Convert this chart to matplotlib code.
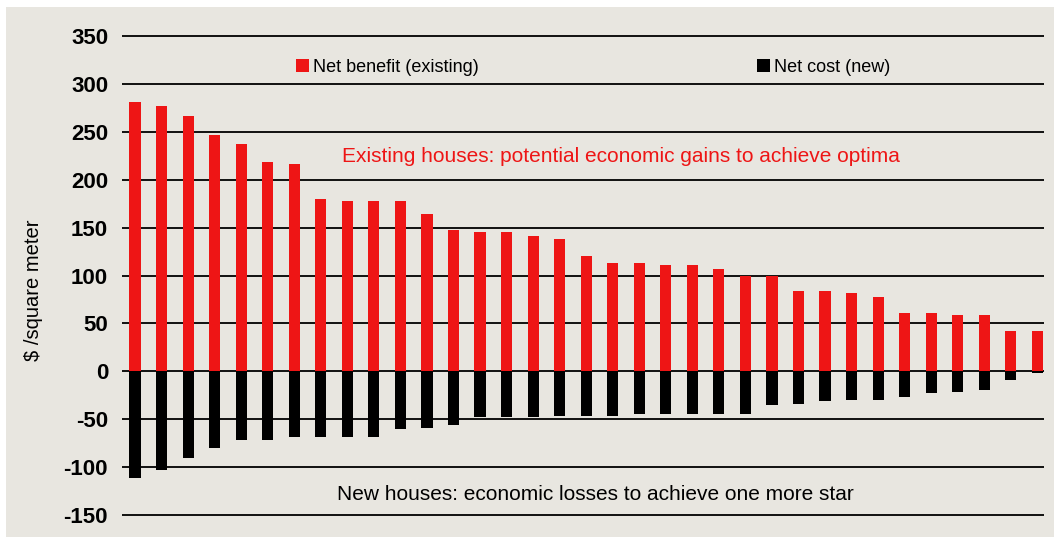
import numpy as np
import matplotlib.pyplot as plt
from matplotlib.patches import Rectangle, Patch

# values ($ per square meter)
net_benefit = [281, 277, 266, 247, 237, 218, 216, 180, 178, 178, 178, 164,
               147, 145, 145, 141, 138, 120, 113, 113, 111, 111, 107, 99,
               99, 84, 84, 82, 78, 61, 61, 59, 59, 42, 42]
net_cost = [-111, -103, -90, -80, -72, -72, -69, -69, -68, -68, -60, -59,
            -56, -48, -48, -48, -47, -47, -47, -44, -44, -44, -44, -44,
            -35, -34, -31, -30, -30, -27, -23, -22, -19, -9, -2]
yticks = [-150, -100, -50, 0, 50, 100, 150, 200, 250, 300, 350]

red = '#EE1515'
bg = '#E8E6E0'
narrow = ['Liberation Sans Narrow', 'Liberation Sans', 'DejaVu Sans']

fig = plt.figure(figsize=(10.54, 5.37), dpi=100, facecolor='white')
fig.patches.append(Rectangle((6 / 1054, 0), 1 - 6 / 1054, 1 - 7 / 537,
                             transform=fig.transFigure, facecolor=bg,
                             edgecolor='none', zorder=-10))

ax = fig.add_axes([122 / 1054, 1 - 517 / 537, 922 / 1054, 483 / 537])
ax.set_facecolor('none')

x = np.arange(len(net_benefit))
ax.bar(x, net_benefit, width=0.42, color=red, zorder=3)
ax.bar(x, net_cost, width=0.42, color='black', zorder=3)

ax.set_xlim(-0.49, 34.25)
ax.set_ylim(-152, 352)
ax.set_yticks(yticks)
ax.set_yticklabels([str(t) for t in yticks], fontsize=16, fontweight='bold',
                   family='Liberation Sans')
ax.tick_params(axis='y', length=0, pad=10)
ax.set_xticks([])
for s in ax.spines.values():
    s.set_visible(False)
ax.yaxis.grid(True, color='black', linewidth=1.3)
for gl in ax.yaxis.get_gridlines():
    gl.set_zorder(2)

ax.set_ylabel('\\$ /square meter', fontsize=14.5, family='Liberation Sans')
ax.yaxis.set_label_coords(-0.086, 0.47)

ax.text(18.3, 224, 'Existing houses: potential economic gains to achieve optima',
        color=red, fontsize=15, family=narrow, ha='center', va='center', zorder=5)
ax.text(17.36, -128, 'New houses: economic losses to achieve one more star',
        color='black', fontsize=15, family=narrow, ha='center', va='center', zorder=5)

handles = [Patch(facecolor=red, label='Net benefit (existing)'),
           Patch(facecolor='black', label='Net cost (new)')]
fig.legend(handles=handles, loc='center left', ncol=2,
           bbox_to_anchor=(296 / 1054, 1 - 67 / 537), frameon=False,
           prop={'family': narrow, 'size': 13}, borderpad=0, borderaxespad=0,
           handlelength=0.7, handleheight=0.7, handletextpad=0.25,
           columnspacing=15.4)

fig.savefig('out.png', dpi=100, facecolor='white')
